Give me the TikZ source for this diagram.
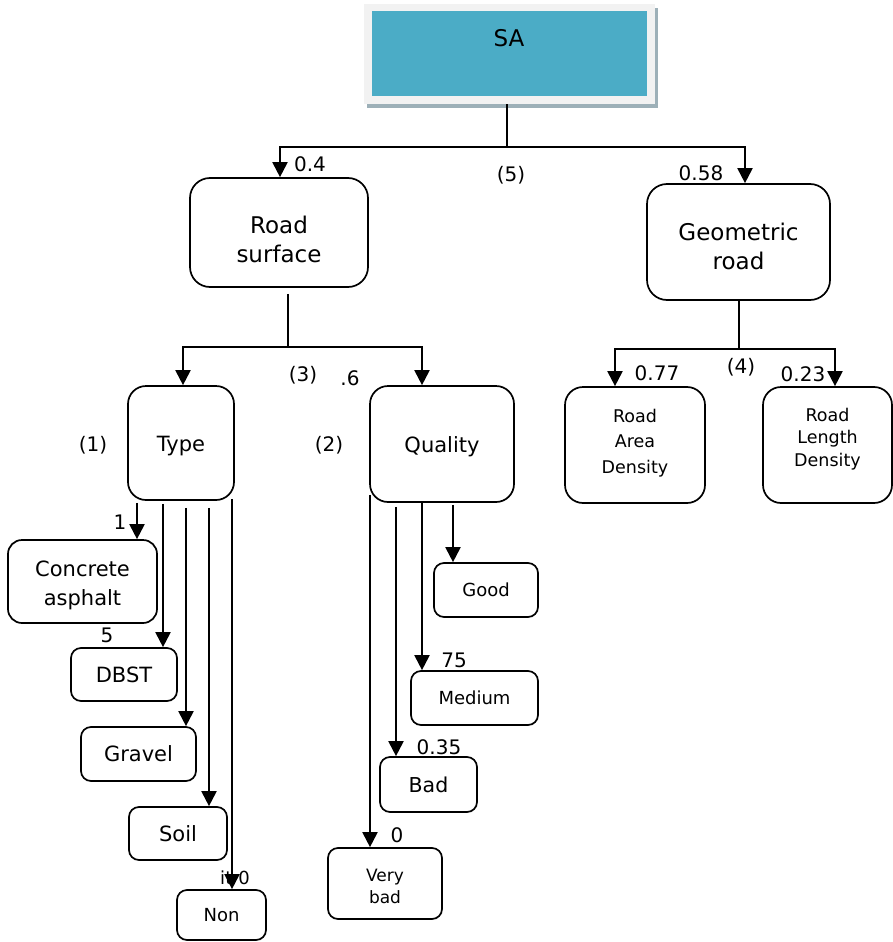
\documentclass[tikz,border=0pt]{standalone}
\usepackage{fontspec}
\setmainfont{DejaVu Sans}
\usetikzlibrary{arrows.meta}
\definecolor{teal}{HTML}{4BACC6}
\definecolor{framec}{HTML}{F2F2F2}
\definecolor{shadowc}{HTML}{9DB0B8}
\begin{document}
\begin{tikzpicture}[x=1pt,y=-1pt,
  box/.style={draw, line width=1.7pt, rounded corners=10pt, align=center, inner sep=0pt},
  bigtxt/.style={font=\fontsize{23}{29}\selectfont},
  midtxt/.style={font=\fontsize{21}{29}\selectfont},
  smalltxt/.style={font=\fontsize{18}{22}\selectfont},
  lbl/.style={font=\fontsize{20}{22}\selectfont, inner sep=0pt},
  conn/.style={line width=1.8pt},
  arr/.style={line width=2pt, -{Triangle[width=15pt,length=15pt]}}]
\useasboundingbox (0,0) rectangle (893,942);
% SA header
\fill[shadowc] (367,8) rectangle (658,108);
\node[fill=framec, minimum width=291pt, minimum height=100pt, inner sep=0pt] (sa) at (509.5,54) {};
\node[fill=teal, minimum width=275pt, minimum height=85pt, inner sep=0pt] (sain) at (509.5,53.5) {};
\node[bigtxt, inner sep=0pt] (satext) at (509,38) {SA};
% level 1
\node[box, rounded corners=20pt, minimum width=178pt, minimum height=109pt,
  label={[bigtxt, align=center, yshift=-7pt]center:{Road\\surface}}] (rs) at (279,232.5) {};
\node[box, rounded corners=20pt, minimum width=183pt, minimum height=116pt,
  label={[bigtxt, align=center, yshift=-4pt]center:{Geometric\\road}}] (gr) at (738.5,242) {};
% level 2
\node[box, rounded corners=18pt, minimum width=106pt, minimum height=114pt,
  label={[midtxt, yshift=-3pt]center:Type}] (type) at (181,443) {};
\node[box, rounded corners=18pt, minimum width=144pt, minimum height=116pt,
  label={[midtxt, yshift=-3pt]center:Quality}] (ql) at (442,444) {};
\node[box, rounded corners=18pt, minimum width=140pt, minimum height=116pt,
  label={[font=\fontsize{17.5}{25.5}\selectfont, align=center, yshift=2pt]center:{Road\\Area\\Density}}] (rad) at (635,445) {};
\node[box, rounded corners=18pt, minimum width=129pt, minimum height=116pt,
  label={[font=\fontsize{17.5}{22.5}\selectfont, align=center, yshift=6pt]center:{Road\\Length\\Density}}] (rld) at (827.5,445) {};
% type children
\node[box, rounded corners=14pt, minimum width=149pt, minimum height=83pt,
  label={[midtxt, align=center, yshift=-4pt]center:{Concrete\\asphalt}}] (ca) at (82.5,581.5) {};
\node[box, midtxt, minimum width=106pt, minimum height=53pt] (dbst) at (124,674.5) {DBST};
\node[box, midtxt, minimum width=115pt, minimum height=54pt] (gravel) at (138.5,754) {Gravel};
\node[box, midtxt, minimum width=98pt, minimum height=53pt] (soil) at (178,833.5) {Soil};
\node[box, smalltxt, minimum width=89pt, minimum height=50pt] (non) at (221.5,915) {Non};
% quality children
\node[box, smalltxt, minimum width=104pt, minimum height=54pt] (good) at (486,590) {Good};
\node[box, smalltxt, minimum width=127pt, minimum height=54pt] (medium) at (474.5,698) {Medium};
\node[box, font=\fontsize{20.5}{24}\selectfont, minimum width=97pt, minimum height=55pt] (bad) at (428.5,784.5) {Bad};
\node[box, minimum width=114pt, minimum height=71pt,
  label={[font=\fontsize{17}{22}\selectfont, align=center, yshift=-3pt]center:{Very\\bad}}] (vbad) at (385,883.5) {};
% connectors level 1
\coordinate (j5) at (507,147);
\draw[conn] (sa.south -| j5) -- (j5);
\draw[arr] (j5) -| ([xshift=1pt]rs.north);
\draw[arr] (j5) -| ([xshift=6.5pt]gr.north);
% road surface connectors
\coordinate (j3) at (288,347);
\draw[conn, shorten <=6pt] (rs.south -| j3) -- (j3);
\draw[arr] (j3) -| ([xshift=2pt]type.north);
\draw[arr] (j3) -| ([xshift=-20pt]ql.north);
% geometric connectors
\coordinate (j4) at (739,349);
\draw[conn] (gr.south -| j4) -- (j4);
\draw[arr] (j4) -| ([xshift=-20pt]rad.north);
\draw[arr] (j4) -| ([xshift=7.5pt]rld.north);
% type arrows
\draw[arr, shorten <=2pt] (137,0 |- type.south) -- (137,0 |- ca.north);
\draw[arr, shorten <=3pt] (163,0 |- type.south) -- (163,0 |- dbst.north);
\draw[arr, shorten <=7pt] (186,0 |- type.south) -- (186,0 |- gravel.north);
\draw[arr, shorten <=7pt] (209,0 |- type.south) -- (209,0 |- soil.north);
\draw[arr, shorten <=-2pt] (232,0 |- type.south) -- (232,0 |- non.north);
% quality arrows
\draw[arr, shorten <=-8pt] (370,0 |- ql.south) -- (370,0 |- vbad.north);
\draw[arr, shorten <=4pt] (396,0 |- ql.south) -- (396,0 |- bad.north);
\draw[arr] (422,0 |- ql.south) -- (422,0 |- medium.north);
\draw[arr, shorten <=2pt] (453,0 |- ql.south) -- (453,0 |- good.north);
% labels
\node[lbl] (l04) at (310,164) {0.4};
\node[lbl] (l5) at (511,175) {(5)};
\node[lbl] (l058) at (701,173) {0.58};
\node[lbl] (l3) at (303,375) {(3)};
\node[lbl] (l06) at (350,378) {.6};
\node[lbl] (l1p) at (93,445) {(1)};
\node[lbl] (l2p) at (329,445) {(2)};
\node[lbl] (l077) at (657,373) {0.77};
\node[lbl] (l4) at (741,367) {(4)};
\node[lbl] (l023) at (803,374) {0.23};
\node[lbl] (lone) at (120,522) {1};
\node[lbl] (lfive) at (107,635) {5};
\node[lbl, font=\fontsize{18}{20}\selectfont] (lit) at (235,878) {it\,\,0};
\node[lbl] (lzero) at (397,835) {0};
\node[lbl] (l035) at (439,747) {0.35};
\node[lbl] (l75) at (454,660) {75};
\end{tikzpicture}
\end{document}
